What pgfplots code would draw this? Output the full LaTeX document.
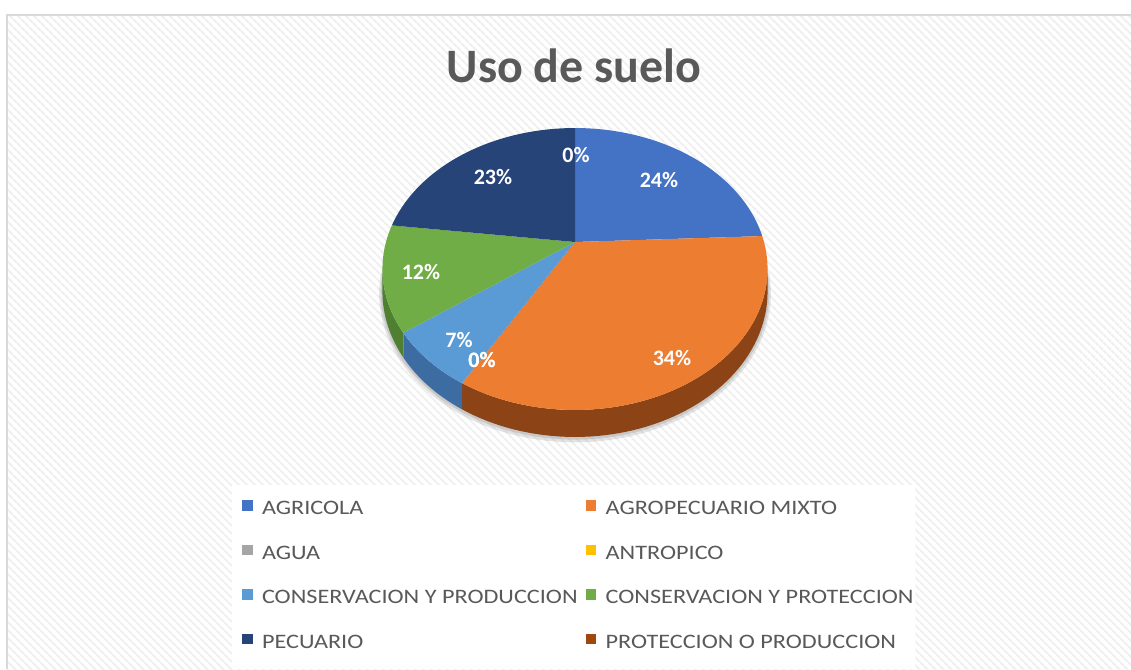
\documentclass[border=0pt]{standalone}
\usepackage{pgfplots}
\pgfplotsset{compat=1.18}
\usepackage{pgfplotstable}
\usepackage{fontspec}
\setmainfont{Carlito}
\newfontfamily\legfont[FakeStretch=1.18]{Carlito}
\usetikzlibrary{patterns.meta}

\definecolor{c0}{HTML}{4472C4}
\definecolor{c1}{HTML}{ED7D31}
\definecolor{c2}{HTML}{A5A5A5}
\definecolor{c3}{HTML}{FFC000}
\definecolor{c4}{HTML}{5B9BD5}
\definecolor{c5}{HTML}{70AD47}
\definecolor{c6}{HTML}{264478}
\definecolor{c7}{HTML}{9E480E}
\definecolor{w0}{HTML}{2F5597}
\definecolor{w1}{HTML}{8C4315}
\definecolor{w2}{HTML}{7F7F7F}
\definecolor{w3}{HTML}{BF9000}
\definecolor{w4}{HTML}{3D6CA3}
\definecolor{w5}{HTML}{4F8031}
\definecolor{w6}{HTML}{1A2F55}
\definecolor{w7}{HTML}{6E320A}
\definecolor{txt}{HTML}{595959}
\definecolor{frm}{HTML}{D9D9D9}

% share of each land use, in legend order
\pgfplotstableread{
value
24.3
34.0
0
0
6.6
12.1
23.0
0
}\piedata

\def\cx{575}\def\cyy{427}\def\pA{189}\def\pB{135.8}\def\pE{0.1915}\def\pD{21.83}
\gdef\slices{}\gdef\walls{}\gdef\cum{0}

\newcommand\doslice[1]{%
  \pgfplotstablegetelem{#1}{value}\of\piedata
  \pgfmathsetmacro\sta{90-3.6*\cum}%
  \pgfmathsetmacro\newcum{\cum+\pgfplotsretval}%
  \global\let\cum\newcum
  \pgfmathsetmacro\ena{90-3.6*\cum}%
  \pgfmathtruncatemacro\okk{(\sta-\ena)>0.01 ? 1 : 0}%
  \ifnum\okk=1
    \xdef\slices{\unexpanded\expandafter{\slices}\noexpand\fill[c#1] (\cx,\cyy) -- plot[domain=\sta:\ena,samples=90,variable=\noexpand\pa] ({\cx+\pA*cos(\noexpand\pa)/(1+\pE*sin(\noexpand\pa))},{\cyy+\pB*sin(\noexpand\pa)/(1+\pE*sin(\noexpand\pa))}) -- cycle;}%
    \pgfmathsetmacro\wa{min(\sta,-11.05)}%
    \pgfmathsetmacro\wb{max(\ena,-168.95)}%
    \pgfmathtruncatemacro\okw{(\wa-\wb)>0.01 ? 1 : 0}%
    \ifnum\okw=1
      \xdef\walls{\unexpanded\expandafter{\walls}\noexpand\fill[w#1] plot[domain=\wa:\wb,samples=60,variable=\noexpand\pa] ({\cx+\pA*cos(\noexpand\pa)/(1+\pE*sin(\noexpand\pa))},{\cyy+\pB*sin(\noexpand\pa)/(1+\pE*sin(\noexpand\pa))}) -- plot[domain=\wb:\wa,samples=60,variable=\noexpand\pa] ({\cx+\pA*cos(\noexpand\pa)/(1+\pE*sin(\noexpand\pa))},{\cyy+(\pB*sin(\noexpand\pa)-\pD)/(1+\pE*sin(\noexpand\pa))}) -- cycle;}%
    \fi
  \fi
}

\begin{document}
\begin{tikzpicture}
\doslice{0}\doslice{1}\doslice{2}\doslice{3}\doslice{4}\doslice{5}\doslice{6}\doslice{7}
\begin{axis}[
  width=848.25pt, height=501.75pt, scale only axis,
  xmin=0, xmax=1131, ymin=0, ymax=669,
  hide axis, clip=true,
  legend columns=2, legend cell align=left,
  legend style={at={(0.21397,0.2522)}, anchor=north west, draw=none, fill=none,
    inner sep=0pt, outer sep=0pt, row sep=22.5pt,
    font=\legfont\fontsize{15.4}{15.4}\selectfont, text=txt,
    nodes={inner sep=0pt, text height=9.5pt, text depth=0pt},
    /tikz/every odd column/.style={column sep=7pt},
    /tikz/every even column/.style={column sep=6pt}},
  legend image code/.code={\fill[#1, draw=none] (0pt,-1.9pt) rectangle (8pt,6.1pt);},
]
% background
\fill[white] (0,0) rectangle (1131,669);
\fill[pattern={Lines[angle=-45,distance=4pt,line width=1.8pt]}, pattern color=black!6] (7,0) rectangle (1131,654);
\draw[frm, line width=1.5pt] (7,0) -- (7,654) -- (1131,654);
\fill[white] (232,0) rectangle (915,184);
% soft shadow under the pie rim
\draw[black!30, line width=5pt, opacity=0.35] plot[domain=-3:-177,samples=90,variable=\pa] ({\cx+\pA*cos(\pa)/(1+\pE*sin(\pa))},{\cyy-2+(\pB*sin(\pa)-\pD)/(1+\pE*sin(\pa))});
\draw[black!30, line width=2.5pt, opacity=0.5] plot[domain=-3:-177,samples=90,variable=\pa] ({\cx+\pA*cos(\pa)/(1+\pE*sin(\pa))},{\cyy-1+(\pB*sin(\pa)-\pD)/(1+\pE*sin(\pa))});
% pie
\walls
\slices
% data labels
\begin{scope}[every node/.style={anchor=base, text=white, font=\bfseries\fontsize{16.5}{16.5}\selectfont, inner sep=0pt}]
\node at (659,481) {24\%};
\node at (672,304) {34\%};
\node at (482,302) {0\%};
\node at (482,302) {0\%};
\node at (459,322) {7\%};
\node at (421,390) {12\%};
\node at (493,484) {23\%};
\node at (576,506) {0\%};
\end{scope}
% title
\node[anchor=base, text=txt, font=\bfseries\fontsize{36}{36}\selectfont, inner sep=0pt] at (574,586) {Uso de suelo};
% legend
\addlegendimage{fill=c0}\addlegendentry{AGRICOLA}
\addlegendimage{fill=c1}\addlegendentry{AGROPECUARIO MIXTO}
\addlegendimage{fill=c2}\addlegendentry{AGUA}
\addlegendimage{fill=c3}\addlegendentry{ANTROPICO}
\addlegendimage{fill=c4}\addlegendentry{CONSERVACION Y PRODUCCION}
\addlegendimage{fill=c5}\addlegendentry{CONSERVACION Y PROTECCION}
\addlegendimage{fill=c6}\addlegendentry{PECUARIO}
\addlegendimage{fill=c7}\addlegendentry{PROTECCION O PRODUCCION}
\end{axis}
\end{tikzpicture}
\end{document}
